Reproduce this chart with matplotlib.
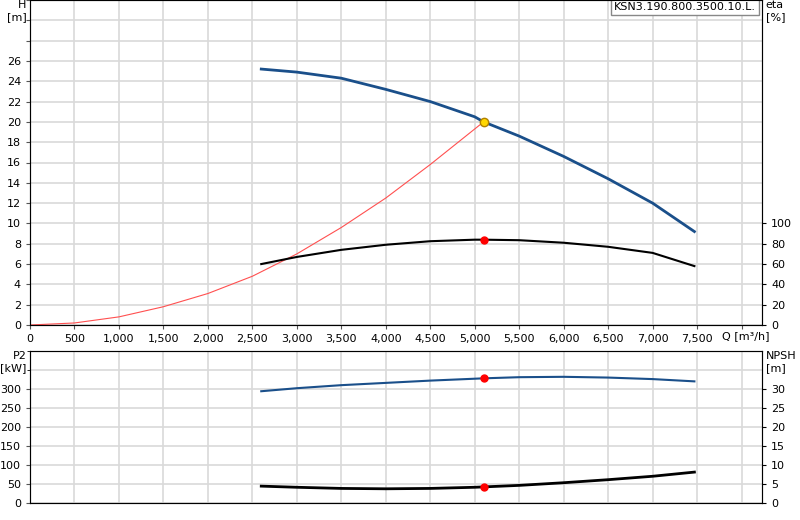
import matplotlib
matplotlib.use("Agg")
import matplotlib.pyplot as plt
from matplotlib.ticker import MultipleLocator, FuncFormatter

q_pump = [2600, 3000, 3500, 4000, 4500, 5000, 5100, 5500, 6000, 6500, 7000, 7470]
head = [25.2, 24.9, 24.3, 23.2, 22.0, 20.5, 20.0, 18.6, 16.6, 14.4, 12.0, 9.2]
eta = [60, 67, 74, 79, 82.5, 84, 84, 83.5, 81, 77, 71, 58]
p2 = [294, 302, 310, 316, 322, 327, 328, 331, 332, 330, 326, 320]
npsh = [4.4, 4.1, 3.8, 3.7, 3.8, 4.1, 4.2, 4.6, 5.3, 6.1, 7.0, 8.1]
q_sys = [0, 500, 1000, 1500, 2000, 2500, 3000, 3500, 4000, 4500, 5100]
h_sys = [0, 0.2, 0.8, 1.8, 3.1, 4.8, 7.0, 9.6, 12.5, 15.8, 20.0]
q_duty = 5100
h_duty, eta_duty, p2_duty, npsh_duty = 20.0, 84, 328, 4.2
title = "KSN3.190.800.3500.10.L."

blue = "#1a4f8a"
grid_c = "#d9d9d9"
fig = plt.figure(figsize=(8, 5.2), dpi=100)
ax = fig.add_axes([0.0375, 0.375, 0.915, 0.625])
bx = fig.add_axes([0.0375, 0.033, 0.915, 0.292])
fmt = FuncFormatter(lambda v, p: f"{int(v):,}")
for a in (ax, bx):
    a.set_xlim(0, 8230)
    a.xaxis.set_major_locator(MultipleLocator(500))
    a.grid(True, color=grid_c, lw=1.2)
    a.set_axisbelow(True)
    a.tick_params(labelsize=8, length=3, color="#555")
    for s in a.spines.values():
        s.set_color("#555")
ax.xaxis.set_major_formatter(FuncFormatter(lambda v, p: f"{int(v):,}" if v <= 7500 else ""))
bx.xaxis.set_major_formatter(FuncFormatter(lambda v, p: ""))
bx.tick_params(axis="x", length=0)

ax.set_ylim(0, 32)
ax.yaxis.set_major_locator(MultipleLocator(2))
ax.yaxis.set_major_formatter(FuncFormatter(lambda v, p: f"{int(v)}" if v <= 26 else ""))
ax.plot(q_sys, h_sys, color="#ff5050", lw=0.8)
ax.plot(q_pump, head, color=blue, lw=2)
ax2 = ax.twinx()
ax2.set_ylim(0, 320)
ax2.set_yticks(range(0, 101, 20))
ax2.tick_params(labelsize=8, length=3)
ax2.plot(q_pump, eta, color="black", lw=1.5)
ax2.plot([q_duty], [eta_duty], "o", color="red", ms=5)
ax.plot([q_duty], [h_duty], "o", color="#ffd700", mec="#b08000", ms=6, zorder=5)
ax.text(-0.005, 1.0, "H\n[m]", transform=ax.transAxes, ha="right", va="top", fontsize=8)
ax2.text(1.005, 1.0, "eta\n[%]", transform=ax.transAxes, ha="left", va="top", fontsize=8)
ax.text(8050, -0.6, "Q [m³/h]", ha="center", va="top", fontsize=8)
ax.text(0.992, 0.995, title, transform=ax.transAxes, ha="right", va="top", fontsize=8,
        bbox=dict(boxstyle="square,pad=0.3", fc="white", ec="#888"))

bx.set_ylim(0, 400)
bx.set_yticks(range(0, 301, 50))
bx.yaxis.set_minor_locator(MultipleLocator(50))
bx.grid(True, which="minor", color=grid_c, lw=1.2)
bx.plot(q_pump, p2, color=blue, lw=1.5)
bx.plot([q_duty], [p2_duty], "o", color="red", ms=5)
bx2 = bx.twinx()
bx2.set_ylim(0, 40)
bx2.set_yticks(range(0, 31, 5))
bx2.tick_params(labelsize=8, length=3)
bx2.plot(q_pump, npsh, color="black", lw=2)
bx2.plot([q_duty], [npsh_duty], "o", color="red", ms=5)
bx.text(-0.005, 1.0, "P2\n[kW]", transform=bx.transAxes, ha="right", va="top", fontsize=8)
bx2.text(1.005, 1.0, "NPSH\n[m]", transform=bx.transAxes, ha="left", va="top", fontsize=8)

fig.savefig("out.png", dpi=100)
